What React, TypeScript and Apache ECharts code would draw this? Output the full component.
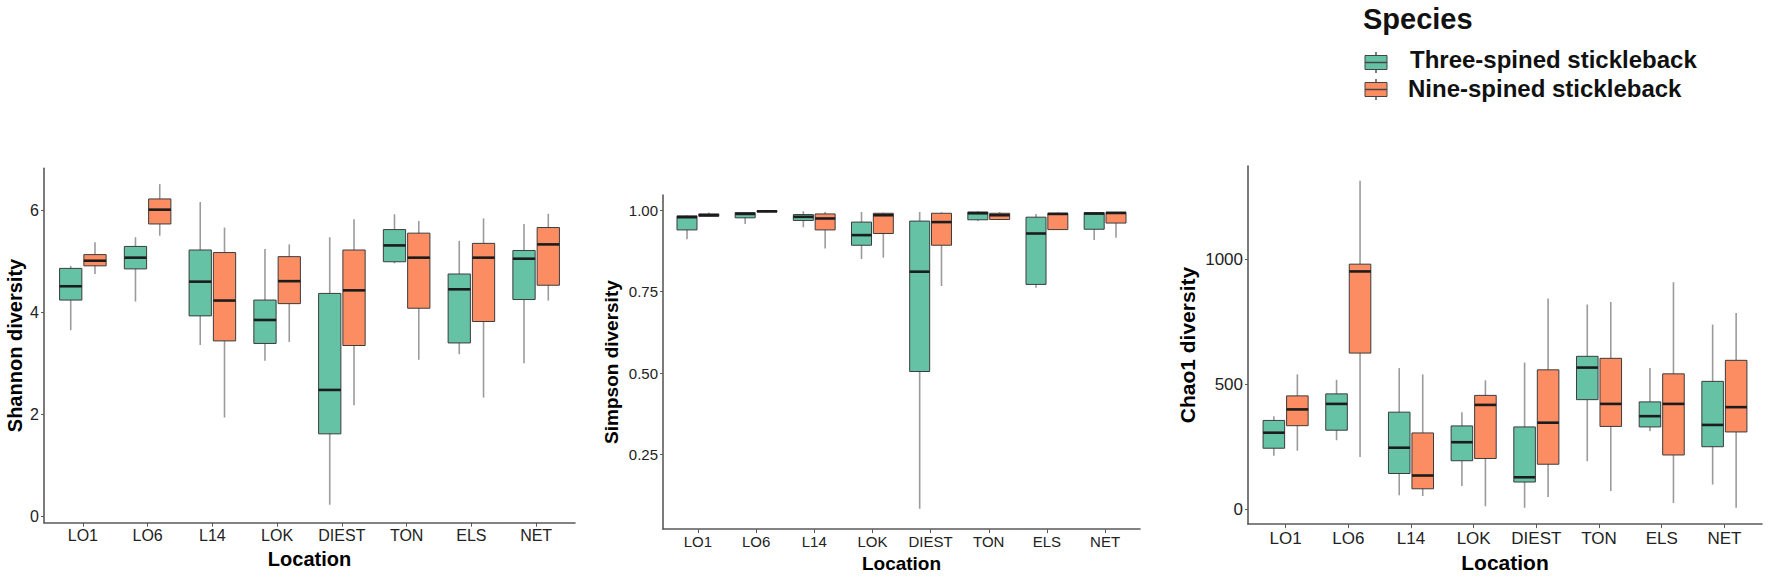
import { useEffect, useRef } from "react";
import * as echarts from "echarts";

const locations = ["LO1", "LO6", "L14", "LOK", "DIEST", "TON", "ELS", "NET"];
const speciesNames = ["Three-spined stickleback", "Nine-spined stickleback"];
const speciesColors = ["#66C2A5", "#FC8D62"];

// each row: [min, Q1, median, Q3, max]
const shannonThree = [
  [3.65, 4.24, 4.51, 4.86, 4.91],
  [4.21, 4.85, 5.07, 5.29, 5.47],
  [3.36, 3.93, 4.6, 5.22, 6.16],
  [3.05, 3.39, 3.85, 4.24, 5.24],
  [0.23, 1.62, 2.48, 4.37, 5.47],
  [4.96, 4.99, 5.31, 5.62, 5.92],
  [3.18, 3.4, 4.45, 4.75, 5.4],
  [3.0, 4.25, 5.05, 5.21, 5.73],
];
const shannonNine = [
  [4.75, 4.91, 5.01, 5.13, 5.37],
  [5.5, 5.73, 6.01, 6.22, 6.51],
  [1.94, 3.44, 4.23, 5.17, 5.66],
  [3.42, 4.17, 4.61, 5.09, 5.33],
  [2.18, 3.35, 4.43, 5.22, 5.82],
  [3.07, 4.08, 5.07, 5.55, 5.79],
  [2.33, 3.82, 5.07, 5.35, 5.84],
  [4.23, 4.53, 5.33, 5.66, 5.93],
];
const simpsonThree = [
  [0.91, 0.939, 0.978, 0.982, 0.984],
  [0.957, 0.976, 0.988, 0.992, 0.994],
  [0.947, 0.968, 0.979, 0.986, 0.996],
  [0.85, 0.892, 0.923, 0.963, 0.994],
  [0.084, 0.505, 0.811, 0.966, 0.994],
  [0.966, 0.97, 0.99, 0.994, 0.996],
  [0.762, 0.772, 0.928, 0.978, 0.988],
  [0.908, 0.941, 0.989, 0.992, 0.994],
];
const simpsonNine = [
  [0.979, 0.981, 0.984, 0.988, 0.992],
  [0.992, 0.994, 0.996, 0.998, 0.999],
  [0.882, 0.939, 0.974, 0.988, 0.994],
  [0.854, 0.928, 0.984, 0.99, 0.992],
  [0.767, 0.892, 0.963, 0.99, 0.993],
  [0.969, 0.971, 0.984, 0.99, 0.994],
  [0.939, 0.94, 0.988, 0.99, 0.992],
  [0.915, 0.96, 0.991, 0.993, 0.994],
];
const chaoThree = [
  [215, 245, 307, 356, 373],
  [277, 317, 422, 462, 518],
  [57, 144, 247, 389, 565],
  [94, 195, 269, 334, 389],
  [7, 110, 129, 330, 587],
  [193, 439, 567, 612, 819],
  [313, 330, 373, 430, 565],
  [100, 251, 338, 512, 739],
];
const chaoNine = [
  [235, 335, 400, 454, 540],
  [210, 625, 951, 980, 1313],
  [54, 83, 136, 306, 540],
  [13, 204, 418, 456, 516],
  [50, 181, 347, 558, 843],
  [74, 332, 422, 604, 829],
  [26, 218, 422, 542, 908],
  [7, 310, 409, 596, 785],
];

const shannonTicks = [0, 2, 4, 6];
const simpsonTicks = [0.25, 0.5, 0.75, 1.0];
const chaoTicks = [0, 500, 1000];

const FONT = "'Liberation Sans', Arial, Helvetica, sans-serif";
const AXIS_COLOR = "#5a5a5a";
const TEXT_COLOR = "#222";

function makeRender(offsetUnits: number, color: string) {
  return (params: any, api: any) => {
    const xi = api.value(0);
    const vMin = api.value(1);
    const vQ1 = api.value(2);
    const vMed = api.value(3);
    const vQ3 = api.value(4);
    const vMax = api.value(5);
    const unit = api.size([1, 0])[0];
    const cx = api.coord([xi, vMed])[0] + offsetUnits * unit;
    const half = 0.172 * unit;
    const yMin = api.coord([xi, vMin])[1];
    const yQ1 = api.coord([xi, vQ1])[1];
    const yMed = api.coord([xi, vMed])[1];
    const yQ3 = api.coord([xi, vQ3])[1];
    const yMax = api.coord([xi, vMax])[1];
    return {
      type: "group",
      children: [
        {
          type: "line",
          shape: { x1: cx, y1: yMax, x2: cx, y2: yMin },
          style: { stroke: "#9b9b9b", lineWidth: 1.6 },
        },
        {
          type: "rect",
          shape: { x: cx - half, y: yQ3, width: 2 * half, height: Math.max(yQ1 - yQ3, 0.5) },
          style: { fill: color, stroke: "#3c3c3c", lineWidth: 1 },
        },
        {
          type: "line",
          shape: { x1: cx - half, y1: yMed, x2: cx + half, y2: yMed },
          style: { stroke: "#1c1c1c", lineWidth: 2.6 },
        },
      ],
    };
  };
}

function toData(rows: number[][]) {
  return rows.map((r, i) => [i, ...r]);
}

type PanelCfg = {
  grid: { left: number; top: number; width: number; height: number };
  yMin: number;
  yMax: number;
  yTicks: number[];
  yFmt: (v: number) => string;
  yName: string;
  yNameGap: number;
  nameSize: number;
  xNameGap: number;
  tickSize: number;
  xLabelMargin: number;
  yTickSize: number;
};

export default function App() {
  const ref = useRef<HTMLDivElement>(null);

  useEffect(() => {
    if (!ref.current) return;
    const chart = echarts.init(ref.current, undefined, { renderer: "svg" });

    const panels: PanelCfg[] = [
      {
        grid: { left: 44, top: 168.3, width: 531, height: 354.4 },
        yMin: -0.12,
        yMax: 6.82,
        yTicks: shannonTicks,
        yFmt: (v) => String(v),
        yName: "Shannon diversity",
        yNameGap: 19,
        nameSize: 20,
        xNameGap: 23,
        tickSize: 16,
        xLabelMargin: 5,
        yTickSize: 16,
      },
      {
        grid: { left: 663, top: 195, width: 477, height: 334.3 },
        yMin: 0.022,
        yMax: 1.046,
        yTicks: simpsonTicks,
        yFmt: (v) => v.toFixed(2),
        yName: "Simpson diversity",
        yNameGap: 42,
        nameSize: 19,
        xNameGap: 22,
        tickSize: 15,
        xLabelMargin: 5,
        yTickSize: 15,
      },
      {
        grid: { left: 1248, top: 166, width: 514, height: 361.5 },
        yMin: -58,
        yMax: 1372,
        yTicks: chaoTicks,
        yFmt: (v) => String(v),
        yName: "Chao1 diversity",
        yNameGap: 50,
        nameSize: 21,
        xNameGap: 24,
        tickSize: 17,
        xLabelMargin: 6,
        yTickSize: 17,
      },
    ];

    const datasets = [
      [shannonThree, shannonNine],
      [simpsonThree, simpsonNine],
      [chaoThree, chaoNine],
    ];

    const catIdx = locations.map((_, i) => i);

    const option: any = {
      animation: false,
      backgroundColor: "#ffffff",
      textStyle: { fontFamily: FONT },
      grid: panels.map((p) => ({ ...p.grid, containLabel: false })),
      xAxis: panels.map((p, i) => ({
        type: "value",
        gridIndex: i,
        min: -0.6,
        max: 7.6,
        splitLine: { show: false },
        axisLine: { show: true, onZero: false, lineStyle: { color: AXIS_COLOR, width: 1.6 } },
        axisTick: {
          show: true,
          customValues: catIdx,
          length: 4,
          lineStyle: { color: AXIS_COLOR, width: 1 },
        },
        axisLabel: {
          customValues: catIdx,
          formatter: (v: number) => locations[Math.round(v)] ?? "",
          fontSize: p.tickSize,
          color: TEXT_COLOR,
          fontFamily: FONT,
          margin: p.xLabelMargin,
        },
        name: "Location",
        nameLocation: "middle",
        nameGap: p.xNameGap,
        nameTextStyle: {
          fontSize: p.nameSize,
          fontWeight: "bold",
          color: "#000",
          fontFamily: FONT,
        },
      })),
      yAxis: panels.map((p, i) => ({
        type: "value",
        gridIndex: i,
        min: p.yMin,
        max: p.yMax,
        splitLine: { show: false },
        axisLine: { show: true, onZero: false, lineStyle: { color: AXIS_COLOR, width: 1.6 } },
        axisTick: {
          show: true,
          customValues: p.yTicks,
          length: 3,
          lineStyle: { color: AXIS_COLOR, width: 1 },
        },
        axisLabel: {
          customValues: p.yTicks,
          formatter: p.yFmt,
          fontSize: p.yTickSize,
          color: TEXT_COLOR,
          fontFamily: FONT,
          margin: 5,
        },
        name: p.yName,
        nameLocation: "middle",
        nameRotate: 90,
        nameGap: p.yNameGap,
        nameTextStyle: {
          fontSize: p.nameSize,
          fontWeight: "bold",
          color: "#000",
          fontFamily: FONT,
        },
      })),
      series: datasets.flatMap((pair, pi) =>
        pair.map((rows, si) => ({
          type: "custom",
          name: speciesNames[si],
          xAxisIndex: pi,
          yAxisIndex: pi,
          renderItem: makeRender(si === 0 ? -0.1875 : 0.1875, speciesColors[si]),
          encode: { x: 0, y: [1, 2, 3, 4, 5] },
          data: toData(rows),
          clip: false,
        }))
      ),
      graphic: [
        {
          type: "text",
          x: 1363,
          y: 19,
          style: {
            text: "Species",
            font: `bold 29px ${FONT}`,
            fill: "#111",
            verticalAlign: "middle",
            align: "left",
          },
        },
        ...speciesNames.flatMap((name, i) => {
          const top = i === 0 ? 52 : 79;
          return [
            {
              type: "line",
              shape: { x1: 1376, y1: top, x2: 1376, y2: top + 21 },
              style: { stroke: "#555", lineWidth: 1.5 },
            },
            {
              type: "rect",
              shape: { x: 1365, y: top + 3.5, width: 22, height: 14 },
              style: { fill: speciesColors[i], stroke: "#444", lineWidth: 1 },
            },
            {
              type: "line",
              shape: { x1: 1365, y1: top + 10.5, x2: 1387, y2: top + 10.5 },
              style: { stroke: "#444", lineWidth: 1.5 },
            },
            {
              type: "text",
              x: i === 0 ? 1410 : 1408,
              y: i === 0 ? 59 : 88,
              style: {
                text: name,
                font: `bold 24px ${FONT}`,
                fill: "#111",
                verticalAlign: "middle",
                align: "left",
              },
            },
          ];
        }),
      ],
    };

    chart.setOption(option);
    return () => chart.dispose();
  }, []);

  return (
    <div
      ref={ref}
      style={{ position: "fixed", left: 0, top: 0, width: 1771, height: 578, background: "#fff" }}
    />
  );
}
